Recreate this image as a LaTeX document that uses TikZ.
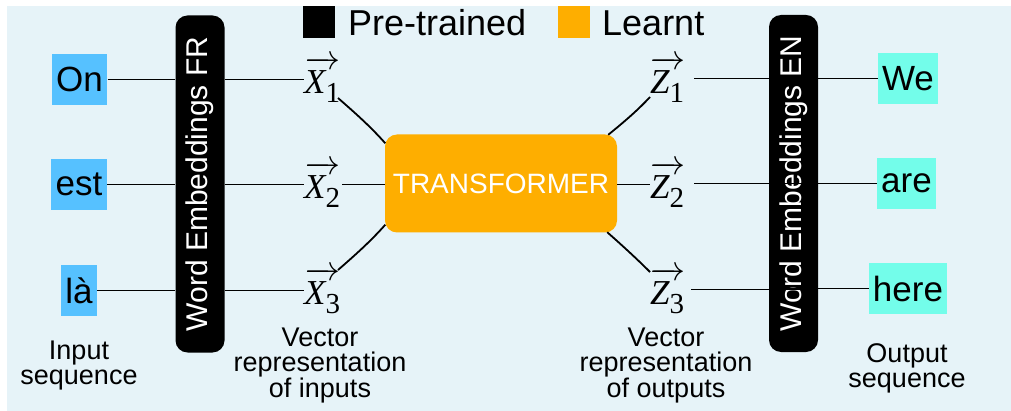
\documentclass[tikz,border=0pt]{standalone}
\usepackage{fontspec}
\setmainfont{Liberation Sans}
\newfontfamily\tms{Liberation Serif}
\DeclareFontShape{OMS}{cmsy}{m}{n}{<->cmsy10}{}
\DeclareFontShape{OT1}{cmr}{m}{n}{<->cmr10}{}
\usetikzlibrary{calc}
\definecolor{bgblue}{HTML}{E6F3F8}
\definecolor{inblue}{HTML}{56C1FF}
\definecolor{outgreen}{HTML}{73FDEA}
\definecolor{learnorange}{HTML}{FEAE00}
\newcommand{\vecsym}[2]{\vbox{\offinterlineskip\halign{##\cr\rightarrowfill\cr\noalign{\kern1.5pt}\hbox{\tms\itshape #1\upshape\raisebox{-9pt}{\fontsize{29}{29}\selectfont #2}}\cr}}}
\tikzset{
  conn/.style={line width=1.8pt, black},
  inword/.style={fill=inblue, font=\fontsize{35}{40}\selectfont, inner xsep=4.5pt, inner ysep=0pt, minimum height=51pt},
  outword/.style={fill=outgreen, font=\fontsize{35}{40}\selectfont, inner xsep=4pt, inner ysep=0pt, minimum height=51pt},
  embbox/.style={fill=black, text=white, rounded corners=12pt, rotate=90, font=\fontsize{30}{34}\selectfont, minimum width=337pt, minimum height=49pt, inner sep=0pt},
  learnbox/.style={fill=learnorange, text=white, rounded corners=12pt, font=\fontsize{28}{32}\selectfont, minimum width=232pt, minimum height=98pt, inner sep=0pt},
  vecnode/.style={font=\fontsize{35}{40}\selectfont, inner sep=0pt, anchor=base west},
  caption/.style={font=\fontsize{27}{25}\selectfont, align=center, anchor=north, inner sep=0pt},
  legendtxt/.style={font=\fontsize{36}{40}\selectfont, anchor=base west, inner sep=0pt},
}
\begin{document}
\begin{tikzpicture}[x=1pt,y=-1pt]
\useasboundingbox (0,0) rectangle (1011,411);
\fill[bgblue] (7,6) rectangle (1011,411);

% legend
\node[fill=black, minimum size=32pt, inner sep=0pt] (legpre) at (319,22) {};
\node[legendtxt] (legpretxt) at (348,36) {Pre-trained};
\node[fill=learnorange, minimum size=32pt, inner sep=0pt] (leglearn) at (574,22) {};
\node[legendtxt] (leglearntxt) at (602,36) {Learnt};

% input words
\node[inword] (on) at (79.5,79.5) {On};
\node[inword] (est) at (79,184.5) {est};
\node[inword] (la) at (79,290.5) {là};

% embeddings
\node[embbox] (fr) at (200,184) {Word Embeddings FR};
\node[embbox] (en) at (793.5,183.5) {Word Embeddings EN};

% transformer
\node[learnbox] (tr) at (501,183.5) {TRANSFORMER};

% vectors
\node[vecnode] (x1) at (304,94) {\vecsym{X}{1}};
\node[vecnode] (x2) at (304,199) {\vecsym{X}{2}};
\node[vecnode] (x3) at (304,305) {\vecsym{X}{3}};
\node[vecnode] (z1) at (650,94) {\vecsym{Z}{1}};
\node[vecnode] (z2) at (650,199) {\vecsym{Z}{2}};
\node[vecnode] (z3) at (650,305) {\vecsym{Z}{3}};

% output words
\node[outword] (we) at (908,78.5) {We};
\node[outword] (are) at (906.5,183.5) {are};
\node[outword] (here) at (908,288.5) {here};

% connectors: inputs -> FR
\draw[conn] (on.east) -- (on.east -| fr.north);
\draw[conn] (est.east) -- (est.east -| fr.north);
\draw[conn] (la.east) -- (la.east -| fr.north);
% FR -> vectors
\draw[conn] (on.east -| fr.south) -- (on.east -| x1.west);
\draw[conn] (est.east -| fr.south) -- (est.east -| x2.west);
\draw[conn] (la.east -| fr.south) -- (la.east -| x3.west);
% vectors -> transformer
\coordinate (x1c) at (338,98);
\coordinate (x3c) at (338,270);
\draw[conn] (x1c) .. controls (354,112) and (370,126) .. ($(tr.north west)+(0.5,9)$);
\draw[conn] ($(x2.east |- est.east)+(2,0)$) -- (tr.west |- est.east);
\draw[conn] (x3c) .. controls (354,256) and (370,242) .. ($(tr.south west)+(0.5,-8)$);
% transformer -> Z
\coordinate (z1c) at (650,97);
\coordinate (z3c) at (650,272);
\draw[conn] ($(tr.north east)+(-9,0.5)$) .. controls (624,122) and (638,110) .. (z1c);
\draw[conn] (tr.east |- est.east) -- (est.east -| z2.west);
\draw[conn] ($(tr.south east)+(-10,-0.5)$) .. controls (624,247) and (638,260) .. (z3c);
% Z -> EN
\draw[conn] ($(z1.east |- we.west)+(9,0)$) -- (we.west -| en.south);
\draw[conn] ($(z2.east |- are.west)+(9,0)$) -- (are.west -| en.south);
\draw[conn] ($(z3.east |- here.west)+(6,1)$) -- ($(here.west -| en.south)+(0,1)$);
% EN -> outputs
\draw[conn] (we.west -| en.north) -- (we.west);
\draw[conn] (are.west -| en.north) -- (are.west);
\draw[conn] (here.west -| en.north) -- (here.west);

% captions
\node[caption] (incap) at (79,341) {Input\\sequence};
\node[caption] (vincap) at (320,328) {Vector\\representation\\of inputs};
\node[caption] (voutcap) at (666,328) {Vector\\representation\\of outputs};
\node[caption] (outcap) at (907,343) {Output\\sequence};
\end{tikzpicture}
\end{document}
